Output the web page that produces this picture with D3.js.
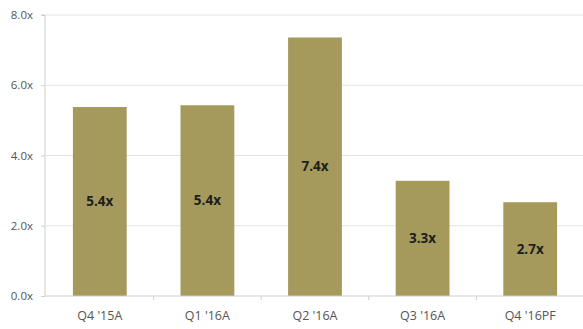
<!DOCTYPE html>
<html>
<head>
<meta charset="utf-8">
<script src="https://d3js.org/d3.v7.min.js"></script>
<style>
  body { margin: 0; background: #fff; }
  text { font-family: "Open Sans", "Liberation Sans", sans-serif; }
</style>
</head>
<body>
<div id="chart"></div>
<script>
// chart data
const quarters = ["Q4 '15A", "Q1 '16A", "Q2 '16A", "Q3 '16A", "Q4 '16PF"];
const multiples = [5.38, 5.43, 7.36, 3.28, 2.67];
const valueLabels = ["5.4x", "5.4x", "7.4x", "3.3x", "2.7x"];
const yTicks = [0, 2, 4, 6, 8];

const width = 583, height = 329;
const margin = {top: 15, right: 0, bottom: 33, left: 46};

const svg = d3.select("#chart").append("svg")
  .attr("width", width)
  .attr("height", height);

const x = d3.scaleBand()
  .domain(quarters)
  .range([margin.left, width + 1])
  .paddingInner(0.5)
  .paddingOuter(0.25);

const y = d3.scaleLinear()
  .domain([0, 8])
  .range([height - margin.bottom, margin.top]);

// gridlines
svg.append("g")
  .selectAll("line")
  .data(yTicks.slice(1))
  .join("line")
    .attr("x1", margin.left)
    .attr("x2", width)
    .attr("y1", d => y(d))
    .attr("y2", d => y(d))
    .attr("stroke", "#e3e3e3")
    .attr("stroke-width", 1);

// y axis
const yAxis = svg.append("g")
  .attr("transform", `translate(${margin.left - 1},0)`)
  .call(d3.axisLeft(y).tickValues(yTicks).tickFormat(d => d.toFixed(1) + "x").tickSize(4).tickPadding(8));
yAxis.select(".domain").attr("stroke", "#cfcfcf").attr("d", `M-4,${y(8)}H0V${y(0)}`);
yAxis.selectAll(".tick line").attr("stroke", "#cfcfcf");
yAxis.selectAll("text").attr("fill", "#555").style("font-size", "11.5px");

// bars
svg.append("g")
  .selectAll("rect")
  .data(quarters)
  .join("rect")
    .attr("x", d => x(d))
    .attr("width", x.bandwidth())
    .attr("y", (d, i) => y(multiples[i]))
    .attr("height", (d, i) => y(0) - y(multiples[i]))
    .attr("fill", "#a59a5c");

// value labels
svg.append("g")
  .selectAll("text")
  .data(quarters)
  .join("text")
    .attr("x", d => x(d) + x.bandwidth() / 2)
    .attr("y", (d, i) => (y(multiples[i]) + y(0)) / 2)
    .attr("dy", "0.35em")
    .attr("text-anchor", "middle")
    .attr("fill", "#1e1e1e")
    .style("font-size", "13.5px")
    .style("font-weight", "bold")
    .text((d, i) => valueLabels[i]);

// x axis
const step = x.step();
const xAxis = svg.append("g")
  .attr("transform", `translate(0,${y(0)})`);
xAxis.append("line")
  .attr("x1", margin.left - 1)
  .attr("x2", width)
  .attr("stroke", "#cfcfcf");
xAxis.selectAll(".sep")
  .data(quarters.slice(1))
  .join("line")
    .attr("class", "sep")
    .attr("x1", d => x(d) - step * 0.25)
    .attr("x2", d => x(d) - step * 0.25)
    .attr("y1", 0)
    .attr("y2", 4)
    .attr("stroke", "#cfcfcf");
xAxis.selectAll(".lbl")
  .data(quarters)
  .join("text")
    .attr("class", "lbl")
    .attr("x", d => x(d) + x.bandwidth() / 2)
    .attr("y", 24)
    .attr("text-anchor", "middle")
    .attr("fill", "#555")
    .style("font-size", "12.5px")
    .text(d => d);
</script>
</body>
</html>
